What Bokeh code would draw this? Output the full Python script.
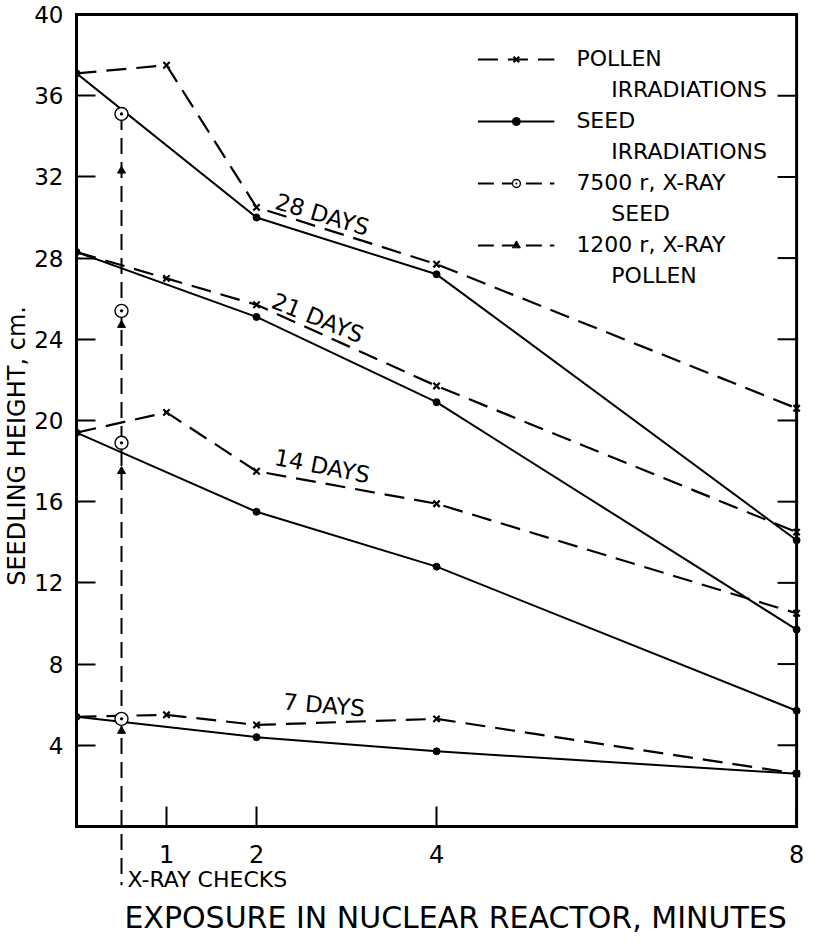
from bokeh.plotting import figure
from bokeh.models import (Range1d, FixedTicker, LinearAxis, Label,
                          Legend, LegendItem)
from bokeh.embed import file_html
from bokeh.resources import INLINE

# ---------------- data ----------------
exposure_pollen = [0, 1, 2, 4, 8]          # minutes in reactor
exposure_seed = [0, 2, 4, 8]
xray_exposure = 0.5                         # x-ray check column

pollen_28 = [37.1, 37.5, 30.5, 27.7, 20.6]
pollen_21 = [28.3, 27.0, 25.7, 21.7, 14.5]
pollen_14 = [19.4, 20.4, 17.5, 15.9, 10.5]
pollen_7 = [5.4, 5.5, 5.0, 5.3, 2.6]

seed_28 = [37.1, 30.0, 27.2, 14.1]
seed_21 = [28.3, 25.1, 20.9, 9.7]
seed_14 = [19.4, 15.5, 12.8, 5.7]
seed_7 = [5.4, 4.4, 3.7, 2.6]

xray_seed_7500r = [35.1, 25.4, 18.9, 5.3]   # 28, 21, 14, 7 days
xray_pollen_1200r = [32.3, 24.7, 17.5, 4.7]

day_labels = ["28 DAYS", "21 DAYS", "14 DAYS", "7 DAYS"]
x_ticks = [1, 2, 4, 8]
y_ticks = [4, 8, 12, 16, 20, 24, 28, 32, 36, 40]

# ---------------- layout constants ----------------
FONT = "DejaVu Sans"
X_MIN, X_MAX = 0, 8
Y_MIN, Y_MAX = 0, 40
X_FRAME_RIGHT = 8.11        # frame runs a bit past the border (room for "8")
Y_FRAME_BOTTOM = -5.52      # frame runs below the axis to host the notes
XRAY_LINE_END = -2.9
XRAY_LABEL_Y = -2.62
NB = "\u00a0"

p = figure(width=806, height=938,
           x_range=Range1d(X_MIN, X_FRAME_RIGHT),
           y_range=Range1d(Y_FRAME_BOTTOM, Y_MAX),
           output_backend="svg", toolbar_location=None,
           min_border_left=69, min_border_right=0,
           min_border_top=14, min_border_bottom=0,
           background_fill_color="white", border_fill_color="white")
p.xgrid.visible = False
p.ygrid.visible = False
p.outline_line_color = None

# bottom axis, pinned at y = 0
xa = p.xaxis[0]
xa.fixed_location = 0
xa.bounds = (X_MIN, X_MAX)
xa.ticker = FixedTicker(ticks=x_ticks)
xa.minor_tick_line_color = None
xa.major_tick_in = 20
xa.major_tick_out = 0
xa.major_tick_line_width = 2
xa.major_tick_line_color = "black"
xa.axis_line_width = 3
xa.axis_line_cap = "square"
xa.axis_line_color = "black"
xa.major_label_text_font = FONT
xa.major_label_text_font_size = "24px"
xa.major_label_text_color = "black"
xa.major_label_standoff = 19
xa.axis_label = NB * 4 + "EXPOSURE IN NUCLEAR REACTOR, MINUTES"
xa.axis_label_text_font = FONT
xa.axis_label_text_font_size = "30px"
xa.axis_label_text_font_style = "normal"
xa.axis_label_text_color = "black"
xa.axis_label_standoff = 33

# left axis
ya = p.yaxis[0]
ya.bounds = (Y_MIN, Y_MAX)
ya.ticker = FixedTicker(ticks=y_ticks)
ya.minor_tick_line_color = None
ya.major_tick_in = 19
ya.major_tick_out = 0
ya.major_tick_line_width = 2
ya.major_tick_line_color = "black"
ya.axis_line_width = 3
ya.axis_line_cap = "square"
ya.axis_line_color = "black"
ya.major_label_text_font = FONT
ya.major_label_text_font_size = "23px"
ya.major_label_text_color = "black"
ya.major_label_standoff = 13
ya.major_label_orientation = "horizontal"
ya.axis_label = NB * 8 + "SEEDLING HEIGHT, cm."
ya.axis_label_text_font = FONT
ya.axis_label_text_font_size = "24px"
ya.axis_label_text_font_style = "normal"
ya.axis_label_text_color = "black"
ya.axis_label_standoff = 0

# top border line (no ticks, no labels)
ta = LinearAxis(ticker=FixedTicker(ticks=[]), bounds=(X_MIN, X_MAX))
ta.axis_line_width = 3
ta.axis_line_cap = "square"
ta.minor_tick_line_color = None
ta.major_tick_line_color = None
ta.major_label_standoff = 0
ta.axis_label_standoff = 0
p.add_layout(ta, "above")

DASH = "20 10"
pollen_sets = [pollen_28, pollen_21, pollen_14, pollen_7]
seed_sets = [seed_28, seed_21, seed_14, seed_7]

pollen_line_r = pollen_mark_r = seed_line_r = seed_mark_r = None
for pol, sd in zip(pollen_sets, seed_sets):
    pl = p.line(exposure_pollen, pol, line_color="black", line_width=2.2,
                line_dash=DASH)
    pm = p.scatter(exposure_pollen[1:], pol[1:], marker="x", size=9,
                   line_color="black", line_width=2.2)
    sl = p.line(exposure_seed, sd, line_color="black", line_width=2)
    sm = p.scatter(exposure_seed, sd, marker="circle", size=7,
                   fill_color="black", line_color="black")
    if pollen_line_r is None:
        pollen_line_r, pollen_mark_r, seed_line_r, seed_mark_r = pl, pm, sl, sm

# right border with inward ticks
p.segment(x0=[X_MAX], y0=[Y_MIN], x1=[X_MAX], y1=[Y_MAX],
          line_color="black", line_width=3, line_cap="square")
p.ray(x=[X_MAX] * len(y_ticks), y=y_ticks, length=19, length_units="screen",
      angle=180, angle_units="deg", line_color="black", line_width=2)

# x-ray check column
XDASH = "16 8"
xray_line_r = p.line([xray_exposure, xray_exposure],
                     [max(xray_seed_7500r), XRAY_LINE_END],
                     line_color="black", line_width=2, line_dash=XDASH)
n = len(xray_seed_7500r)
xseed_r = p.scatter([xray_exposure] * n, xray_seed_7500r, marker="circle_dot",
                    size=13, fill_color="white", line_color="black",
                    line_width=1.4)
xpol_r = p.scatter([xray_exposure] * len(xray_pollen_1200r), xray_pollen_1200r,
                   marker="triangle", size=8, fill_color="black",
                   line_color="black")

p.add_layout(Label(x=xray_exposure, y=XRAY_LABEL_Y, x_offset=6,
                   text="X-RAY CHECKS", text_font=FONT, text_font_size="22px",
                   text_color="black", text_align="left",
                   text_baseline="middle"))

# day labels along the curves
label_pos = [(2.73, 30.15, -16.5), (2.68, 25.05, -22.0),
             (2.73, 17.75, -11.0), (2.75, 5.98, -5.0)]
for txt, (lx, ly, ang) in zip(day_labels, label_pos):
    p.add_layout(Label(x=lx, y=ly, text=txt, angle=ang, angle_units="deg",
                       text_font=FONT, text_font_size="23px",
                       text_color="black", text_align="center",
                       text_baseline="middle"))

# legend: first line carries the sample, second line is a continuation
blank_r = p.line([], [], line_alpha=0)
legend = Legend(items=[
    LegendItem(label="POLLEN", renderers=[pollen_line_r, pollen_mark_r]),
    LegendItem(label=NB * 5 + "IRRADIATIONS" + NB, renderers=[blank_r]),
    LegendItem(label="SEED", renderers=[seed_line_r, seed_mark_r]),
    LegendItem(label=NB * 5 + "IRRADIATIONS" + NB, renderers=[blank_r]),
    LegendItem(label="7500 r, X-RAY", renderers=[xray_line_r, xseed_r]),
    LegendItem(label=NB * 5 + "SEED", renderers=[blank_r]),
    LegendItem(label="1200 r, X-RAY", renderers=[xray_line_r, xpol_r]),
    LegendItem(label=NB * 5 + "POLLEN", renderers=[blank_r]),
], location="top_right")
legend.border_line_color = None
legend.background_fill_alpha = 0
legend.label_text_font = FONT
legend.label_text_font_size = "22px"
legend.label_text_color = "black"
legend.glyph_width = 77
legend.glyph_height = 20
legend.label_standoff = 22
legend.spacing = 6
legend.padding = 0
legend.margin = 32
p.add_layout(legend)

open("out.html", "w").write(file_html(p, INLINE))
